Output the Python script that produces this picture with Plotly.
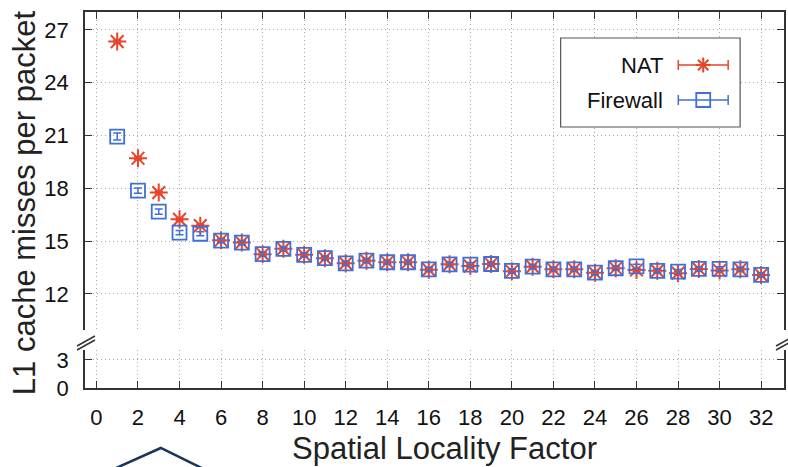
import plotly.graph_objects as go

factor = list(range(1, 33))
nat = [26.34, 19.71, 17.76, 16.24, 15.88, 15.05, 14.92, 14.26, 14.56, 14.22, 14.03, 13.74,
       13.89, 13.80, 13.80, 13.38, 13.68, 13.58, 13.70, 13.29, 13.55, 13.40, 13.40, 13.20,
       13.46, 13.36, 13.31, 13.18, 13.42, 13.33, 13.40, 13.08]
nat_err = [0.08] * 32
firewall = [20.94, 17.87, 16.68, 15.48, 15.42, 15.03, 14.92, 14.26, 14.56, 14.22, 14.03, 13.74,
            13.89, 13.80, 13.80, 13.40, 13.68, 13.66, 13.70, 13.31, 13.55, 13.40, 13.40, 13.21,
            13.46, 13.56, 13.31, 13.27, 13.42, 13.42, 13.40, 13.08]
fw_err = [0.2, 0.15, 0.15, 0.12] + [0.12] * 28
series_names = ["NAT", "Firewall"]
x_ticks = list(range(0, 33, 2))
upper_ticks = [12, 15, 18, 21, 24, 27]
lower_ticks = [0, 3]

RED = "#e6452b"
BLUE = "#3f6fd8"
AX = "#333333"
GRID = "#a8a8a8"
FONT = "Liberation Sans, Arial, sans-serif"

W, H = 788, 467
ML, MR, MT, MB = 85, 2, 12, 79
PW, PH = W - ML - MR, H - MT - MB


def px(x):
    return (x - ML) / PW


def py(y):
    return (H - MB - y) / PH


fig = go.Figure()
# register the lower (broken-axis) panel
fig.add_trace(go.Scatter(x=[], y=[], xaxis="x", yaxis="y", showlegend=False, hoverinfo="skip"))
fig.add_trace(go.Scatter(
    x=factor, y=nat, mode="markers", name=series_names[0], xaxis="x2", yaxis="y2",
    marker=dict(symbol="asterisk-open", size=15, color=RED, line=dict(color=RED, width=2)),
    error_y=dict(type="data", array=nat_err, color=RED, thickness=1.5, width=4),
    showlegend=False))
fig.add_trace(go.Scatter(
    x=factor, y=firewall, mode="markers", name=series_names[1], xaxis="x2", yaxis="y2",
    marker=dict(symbol="square-open", size=14, color=BLUE, line=dict(color=BLUE, width=1.8)),
    error_y=dict(type="data", array=fw_err, color=BLUE, thickness=1.5, width=4),
    showlegend=False))

tickfont = dict(family=FONT, size=22, color="#111111")

lower_dom = [0, py(350)]
upper_dom = [py(330), 1]

common = dict(ticks="inside", ticklen=7, tickcolor=AX, tickwidth=1.2,
              showline=True, linecolor=AX, linewidth=1.5,
              showgrid=True, gridcolor=GRID, griddash="1px,3px", gridwidth=1,
              zeroline=False)

fig.update_layout(
    width=W, height=H,
    margin=dict(l=ML, r=MR, t=MT, b=MB),
    paper_bgcolor="white", plot_bgcolor="white",
    font=dict(family=FONT, color="#111111"),
    xaxis=dict(domain=[0, 1], range=[-0.55, 33.1], anchor="y", tickvals=x_ticks,
               tickfont=tickfont, ticklabelstandoff=9, **common),
    xaxis2=dict(domain=[0, 1], range=[-0.55, 33.1], anchor="y2", side="top", tickvals=x_ticks,
                showticklabels=False, **common),
    yaxis=dict(domain=lower_dom, range=[0, 4.07], anchor="x", tickvals=lower_ticks,
               mirror="ticks", tickfont=tickfont, ticklabelstandoff=10, **common),
    yaxis2=dict(domain=upper_dom, range=[9.95, 28.02], anchor="x2", tickvals=upper_ticks,
                mirror="ticks", tickfont=tickfont, ticklabelstandoff=10, **common),
    showlegend=False,
)

shapes = []
# legend box
shapes.append(dict(type="rect", xref="paper", yref="paper", x0=px(562), x1=px(742),
                   y0=py(127), y1=py(38), line=dict(color="#555555", width=1.2),
                   fillcolor="white", layer="above"))
for yy, col in [(65, RED), (100, BLUE)]:
    shapes.append(dict(type="line", xref="paper", yref="paper", x0=px(680), x1=px(730),
                       y0=py(yy), y1=py(yy), line=dict(color=col, width=1.5)))
    for xx in (680, 730):
        shapes.append(dict(type="line", xref="paper", yref="paper", x0=px(xx), x1=px(xx),
                           y0=py(yy - 5), y1=py(yy + 5), line=dict(color=col, width=1.5)))
# legend key: asterisk for NAT
cx, cy, r = 705, 65, 7.5
for dx, dy in [(0, r), (r, 0), (0.7 * r, 0.7 * r), (0.7 * r, -0.7 * r)]:
    shapes.append(dict(type="line", xref="paper", yref="paper",
                       x0=px(cx - dx), y0=py(cy - dy), x1=px(cx + dx), y1=py(cy + dy),
                       line=dict(color=RED, width=2)))
# legend key: square for Firewall
cy2, s = 100, 7
shapes.append(dict(type="rect", xref="paper", yref="paper",
                   x0=px(cx - s), x1=px(cx + s), y0=py(cy2 + s), y1=py(cy2 - s),
                   line=dict(color=BLUE, width=1.8), fillcolor="white"))
shapes.append(dict(type="line", xref="paper", yref="paper", x0=px(cx - s), x1=px(cx + s),
                   y0=py(cy2), y1=py(cy2), line=dict(color=BLUE, width=1.5)))
# axis break marks
for bx in (85, 786):
    for off in (0, 4):
        shapes.append(dict(type="line", xref="paper", yref="paper",
                           x0=px(bx - 8), y0=py(346 + off), x1=px(bx + 10), y1=py(336 + off),
                           line=dict(color=AX, width=1.5)))
# decorative chevron
shapes.append(dict(type="path", xref="paper", yref="paper",
                   path=f"M {px(114)} {py(469)} L {px(161)} {py(448)} L {px(204)} {py(469)}",
                   line=dict(color="#1b3558", width=2.5)))
fig.update_layout(shapes=shapes)

annotations = [
    dict(text="L1 cache misses per packet", xref="paper", yref="paper", x=px(24), y=py(203),
         textangle=-90, showarrow=False, xanchor="center", yanchor="middle",
         font=dict(family=FONT, size=31, color="#222222")),
    dict(text="Spatial Locality Factor", xref="paper", yref="paper", x=px(446), y=py(448),
         showarrow=False, xanchor="center", yanchor="middle",
         font=dict(family=FONT, size=31, color="#222222")),
    dict(text=series_names[0], xref="paper", yref="paper", x=px(667), y=py(65),
         showarrow=False, xanchor="right", yanchor="middle",
         font=dict(family=FONT, size=22, color="#111111")),
    dict(text=series_names[1], xref="paper", yref="paper", x=px(667), y=py(100),
         showarrow=False, xanchor="right", yanchor="middle",
         font=dict(family=FONT, size=22, color="#111111")),
]
fig.update_layout(annotations=annotations)

fig.write_html("out.html", config={"displayModeBar": False},
               post_script="document.body.style.margin='0';document.body.style.padding='0';")
